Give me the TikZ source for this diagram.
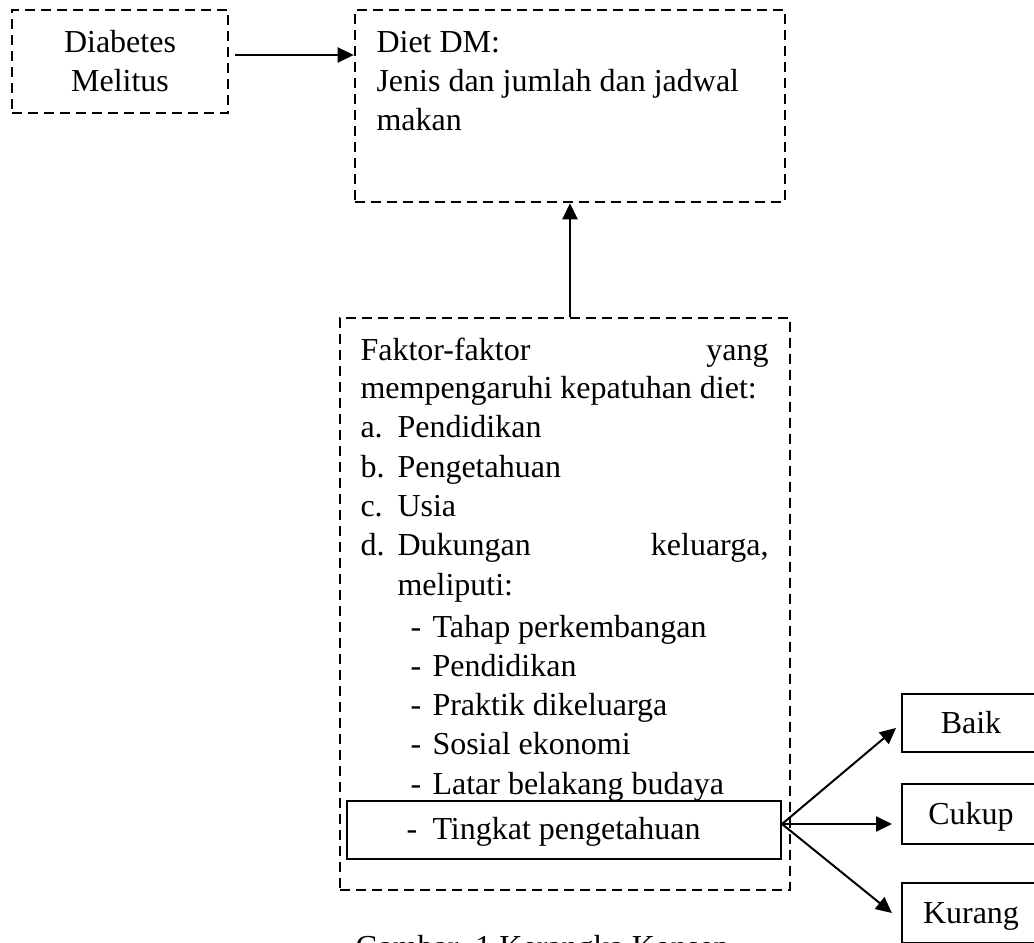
\documentclass[tikz,border=0pt]{standalone}
\usepackage{fontspec}
\setmainfont{Liberation Serif}
\usetikzlibrary{%
    arrows.meta,%
    calc,%
    positioning%
}

\begin{document}
\begin{tikzpicture}[x=0.4pt,y=-0.4pt,
		font=\fontsize{12.8}{15.6}\selectfont,
		dashbox/.style={draw, dashed, dash pattern=on 4pt off 2.4pt, line width=1pt, inner sep=0pt},
		solidbox/.style={draw, line width=0.8pt, inner sep=0pt, text height=8.5pt, text depth=0.5pt},
		txt/.style={anchor=base west, inner sep=0pt},
		ctxt/.style={anchor=base, inner sep=0pt},
		arr/.style={line width=0.8pt, -{Triangle[length=6.4pt,width=6pt]}}]

				\useasboundingbox (0,0) rectangle (1034,942);

				% kotak
				\node[dashbox, minimum width=86.4pt, minimum height=41.2pt] (dm) at (120,61.5) {};
				\node[dashbox, minimum width=172pt, minimum height=76.8pt] (diet) at (570,106) {};
				\node[dashbox, minimum width=180pt, minimum height=228.8pt] (faktor) at (565,604) {};
				\node[solidbox, minimum width=173.6pt, minimum height=23.2pt] (tingkat) at (564,830) {};
				\node[solidbox, minimum width=55.2pt, minimum height=23.2pt] (baik) at (971,723) {Baik};
				\node[solidbox, minimum width=55.2pt, minimum height=24pt] (cukup) at (971,814) {Cukup};
				\node[solidbox, minimum width=55.2pt, minimum height=24pt] (kurang) at (971,913) {Kurang};

				\node[ctxt] (dmA) at (120,52) {Diabetes};
				\node[ctxt] (dmB) at (120,91) {Melitus};

				\node[txt] (dietA) at (376,52) {Diet DM:};
				\node[txt] (dietB) at (376,91) {Jenis dan jumlah dan jadwal};
				\node[txt] (dietC) at (376,130) {makan};

				\node[txt] (fA) at (360,360) {\makebox[163.2pt][s]{Faktor-faktor\hfill yang}};
				\node[txt] (fB) at (360,398) {mempengaruhi kepatuhan diet:};
				\node[txt] (la) at (360,437) {a.};
				\node[txt] (ia) at (397,437) {Pendidikan};
				\node[txt] (lb) at (360,477) {b.};
				\node[txt] (ib) at (397,477) {Pengetahuan};
				\node[txt] (lc) at (360,516) {c.};
				\node[txt] (ic) at (397,516) {Usia};
				\node[txt] (ld) at (360,555) {d.};
				\node[txt] (id) at (397,555) {\makebox[148.4pt][s]{Dukungan\hfill keluarga,}};
				\node[txt] (ie) at (397,595) {meliputi:};
				\foreach \t [count=\i] in {Tahap perkembangan, Pendidikan, Praktik dikeluarga, Sosial ekonomi, Latar belakang budaya}{
					\node[txt] (dash\i) at (410,{637+39.3*(\i-1)}) {-};
					\node[txt] (sub\i) at (432,{637+39.3*(\i-1)}) {\t};
				}
				\node[txt] (dashT) at (406,839) {-};
				\node[txt] (subT) at (432,839) {Tingkat pengetahuan};

				\node[txt] (cap) at (355,957) {Gambar. 1 Kerangka Konsep};

				% panah
				\draw[arr] ([xshift=2.4pt,yshift=2.6pt]dm.east) -- ([yshift=2.6pt]dm.east -| diet.west);
				\draw[arr] (faktor.north -| diet.south) -- (diet.south);
				\coordinate (src) at ([yshift=2.4pt]tingkat.east);
				\draw[arr] (src) -- ([xshift=-2pt,yshift=-2pt]baik.west);
				\draw[arr, shorten >=3.6pt] (src) -- (src -| cukup.west);
				\draw[arr] (src) -- ([xshift=-3.6pt]kurang.west);
\end{tikzpicture}
\end{document}
